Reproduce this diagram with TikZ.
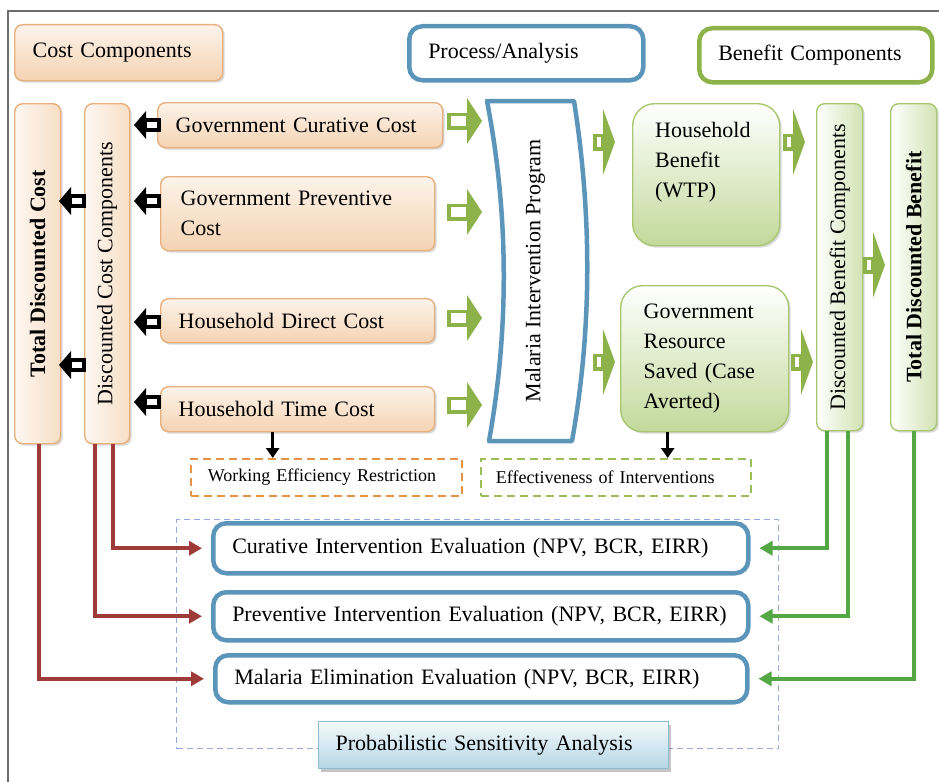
\documentclass[tikz,border=0pt]{standalone}
\usepackage{fontspec}
\setmainfont{Liberation Serif}
\usetikzlibrary{shadows,arrows.meta,calc}
\definecolor{oline}{HTML}{E8B07C}
\definecolor{otop}{HTML}{FCF3EA}
\definecolor{obot}{HTML}{F5D3B2}
\definecolor{gline}{HTML}{A8C770}
\definecolor{gbot}{HTML}{C2D99A}
\definecolor{garrow}{HTML}{8DB24A}
\definecolor{bline}{HTML}{5B95BA}
\definecolor{redc}{HTML}{9E3A38}
\definecolor{greenc}{HTML}{53A744}
\definecolor{dblue}{HTML}{97AADB}
\definecolor{dorange}{HTML}{E59445}
\definecolor{dgreen}{HTML}{9DBD5A}
\definecolor{ptop}{HTML}{F4F9FC}
\definecolor{pbot}{HTML}{B5D6E5}
\definecolor{pline}{HTML}{8CBCD2}
\definecolor{framec}{HTML}{6E6E6E}
\newcommand\fsmain{\fontsize{22bp}{30bp}\selectfont}
\newcommand\fssmall{\fontsize{18bp}{22bp}\selectfont}
\tikzset{
  blk/.pic={\fill[black] (0,0) -- (12,-14) -- (12,14) -- cycle;
            \draw[black, line width=3.4bp, fill=white] (11,-5) rectangle (25,5);},
  ga/.pic={\fill[garrow] (0,0) -- (-15,-23) -- (-15,23) -- cycle;
           \draw[garrow, fill=white, line width=3.5bp] (-33,-6.75) rectangle (-14,6.75);},
  gb/.pic={\fill[garrow] (0,0) -- (-12,-33) -- (-12,33) -- cycle;
            \draw[garrow, line width=3.5bp, fill=white] (-20,-6.75) rectangle (-12,6.75);}
}
\begin{document}
\begin{tikzpicture}[x=1bp,y=-1bp, font=\fsmain,
  shad/.style={drop shadow={shadow xshift=2bp,shadow yshift=-2bp,opacity=0.3}},
  obox/.style={rectangle, rounded corners=8bp, draw=oline, line width=1.4bp, top color=otop, bottom color=obot, shad, anchor=north west, align=left, inner xsep=18bp, inner ysep=0pt},
  obar/.style={obox, left color=otop!60!white, right color=obot!75!white},
  gbox/.style={rectangle, rounded corners=8bp, draw=gline, line width=1.4bp, top color=white, bottom color=gbot, shad, anchor=north west, align=left, inner xsep=23bp, inner ysep=0pt},
  gbar/.style={gbox, left color=white, right color=gbot!75!white},
  bbox/.style={rectangle, rounded corners=13bp, draw=bline, line width=4.5bp, fill=white, anchor=north west, align=left, inner xsep=19bp, inner ysep=0pt},
  gtbox/.style={rectangle, rounded corners=13bp, draw=garrow, line width=4.5bp, fill=white, anchor=north west, align=left, inner xsep=19bp, inner ysep=0pt},
  dbox/.style={rectangle, line width=1.8bp, dash pattern=on 8bp off 5bp, anchor=north west, align=left, font=\fssmall, inner ysep=0pt},
  redline/.style={redc, line width=3.8bp, -{Triangle[length=13bp,width=14bp]}, shorten >=9bp},
  greenline/.style={greenc, line width=3.8bp, -{Triangle[length=13bp,width=14bp]}, shorten >=9bp},
  downarrow/.style={black, line width=3bp, -{Triangle[length=10bp,width=13bp]}}
]
\useasboundingbox (0,0) rectangle (939,782);
\draw[framec, line width=1.5bp] (8,782) -- (8,11) -- (939,11);

% header boxes
\node[obox, minimum width=208bp, minimum height=56bp, text width=172bp] (cc) at (14,24) {Cost Components};
\node[bbox, minimum width=234bp, minimum height=54bp, text width=196bp] (pa) at (407,24) {Process/Analysis};
\node[gtbox, minimum width=233bp, minimum height=54bp, text width=195bp] (bc) at (697,26) {Benefit Components};

% cost side
\node[obar, minimum width=46bp, minimum height=340bp] (tdc) at (14,103) {};
\node[rotate=90, font=\fsmain\bfseries] (tdct) at (tdc.center) {Total Discounted Cost};
\node[obar, minimum width=45bp, minimum height=340bp] (dcc) at (84,103) {};
\node[rotate=90] (dcct) at (dcc.center) {Discounted Cost Components};

\node[obox, minimum width=285bp, minimum height=45bp, text width=249bp] (gcc) at (157,102) {Government Curative Cost};
\node[obox, inner xsep=20bp, minimum width=274bp, minimum height=74bp, text width=234bp] (gpc) at (160,176) {Government Preventive\\Cost};
\node[obox, minimum width=274bp, minimum height=44bp, text width=238bp] (hdc) at (160,298) {Household Direct Cost};
\node[obox, minimum width=274bp, minimum height=45bp, text width=238bp] (htc) at (160,386) {Household Time Cost};

% program
\draw[bline, line width=4.5bp, fill=white, line join=round] (487,101) -- (574,101) .. controls (592,215) and (592,330) .. (572,441) -- (489,441) .. controls (509,330) and (509,215) .. (487,101) -- cycle;
\node[rotate=90] (mip) at (535,271) {Malaria Intervention Program};

% benefit side
\node[gbox, rounded corners=22bp, minimum width=147bp, minimum height=142bp] (hb) at (632,103) {};
\node[anchor=north west, align=left, inner sep=0pt] (hbt) at (655,122) {Household\\Benefit\\(WTP)};
\node[gbox, rounded corners=22bp, minimum width=168bp, minimum height=146bp, text width=122bp] (grs) at (620,285) {Government\\Resource\\Saved (Case\\Averted)};
\node[gbar, minimum width=45bp, minimum height=327bp] (dbc) at (816,103) {};
\node[rotate=90] (dbct) at (dbc.center) {Discounted Benefit Components};
\node[gbar, minimum width=43bp, minimum height=327bp] (tdb) at (890,103) {};
\node[rotate=90, font=\fsmain\bfseries] (tdbt) at (tdb.center) {Total Discounted Benefit};

% dashed notes
\node[dbox, draw=dorange, minimum width=271bp, minimum height=37bp, text width=237bp, inner xsep=17bp] (web) at (190,458) {Working Efficiency Restriction};
\node[dbox, draw=dgreen, minimum width=270bp, minimum height=37bp, text width=240bp, inner xsep=15bp] (eoi) at (480,458) {Effectiveness of Interventions};

% evaluation area
\node[rectangle, draw=dblue, line width=1.2bp, dash pattern=on 6bp off 4bp, anchor=north west, minimum width=602bp, minimum height=229bp, inner sep=0pt] (psaarea) at (176,519) {};
\node[bbox, minimum width=535bp, minimum height=50bp, text width=497bp] (cur) at (211,521) {Curative Intervention Evaluation (NPV, BCR, EIRR)};
\node[bbox, minimum width=535bp, minimum height=48bp, text width=497bp] (prev) at (211,590) {Preventive Intervention Evaluation (NPV, BCR, EIRR)};
\node[bbox, minimum width=532bp, minimum height=47bp, text width=494bp] (mee) at (213,653) {Malaria Elimination Evaluation (NPV, BCR, EIRR)};
\node[rectangle, draw=pline, line width=1.2bp, top color=ptop, bottom color=pbot, drop shadow={shadow xshift=2bp,shadow yshift=-3bp,opacity=0.45}, anchor=north west, minimum width=350bp, minimum height=47bp, text width=316bp, inner xsep=17bp, inner ysep=0pt, align=left] (psa) at (318,721) {Probabilistic Sensitivity Analysis};

% block arrows
\pic at (134,125) {blk};
\pic at (134,201) {blk};
\pic at (134,322) {blk};
\pic at (134,402) {blk};
\pic at (59,201) {blk};
\pic at (59,365) {blk};
\pic at (482,121) {ga};
\pic at (482,212) {ga};
\pic at (482,318) {ga};
\pic at (482,405) {ga};
\pic at (615,142) {gb};
\pic at (615,362) {gb};
\pic at (805,142) {gb};
\pic at (813,362) {gb};
\pic at (885,265) {gb};

% down arrows
\draw[downarrow] ([xshift=-25bp]htc.south) -- ([xshift=-25bp]htc.south |- web.north);
\draw[downarrow] ([xshift=-37bp]grs.south) -- ([xshift=-37bp]grs.south |- eoi.north);

% connectors
\draw[redline] ([xshift=5.5bp]dcc.south) |- (cur.west);
\draw[redline] ([xshift=-12.5bp]dcc.south) |- (prev.west);
\draw[redline] ([xshift=1bp]tdc.south) |- (mee.west);
\draw[greenline] ([xshift=-12.5bp]dbc.south) |- (cur.east);
\draw[greenline] ([xshift=8.5bp]dbc.south) |- (prev.east);
\draw[greenline] (tdb.south) |- (mee.east);
\end{tikzpicture}
\end{document}
